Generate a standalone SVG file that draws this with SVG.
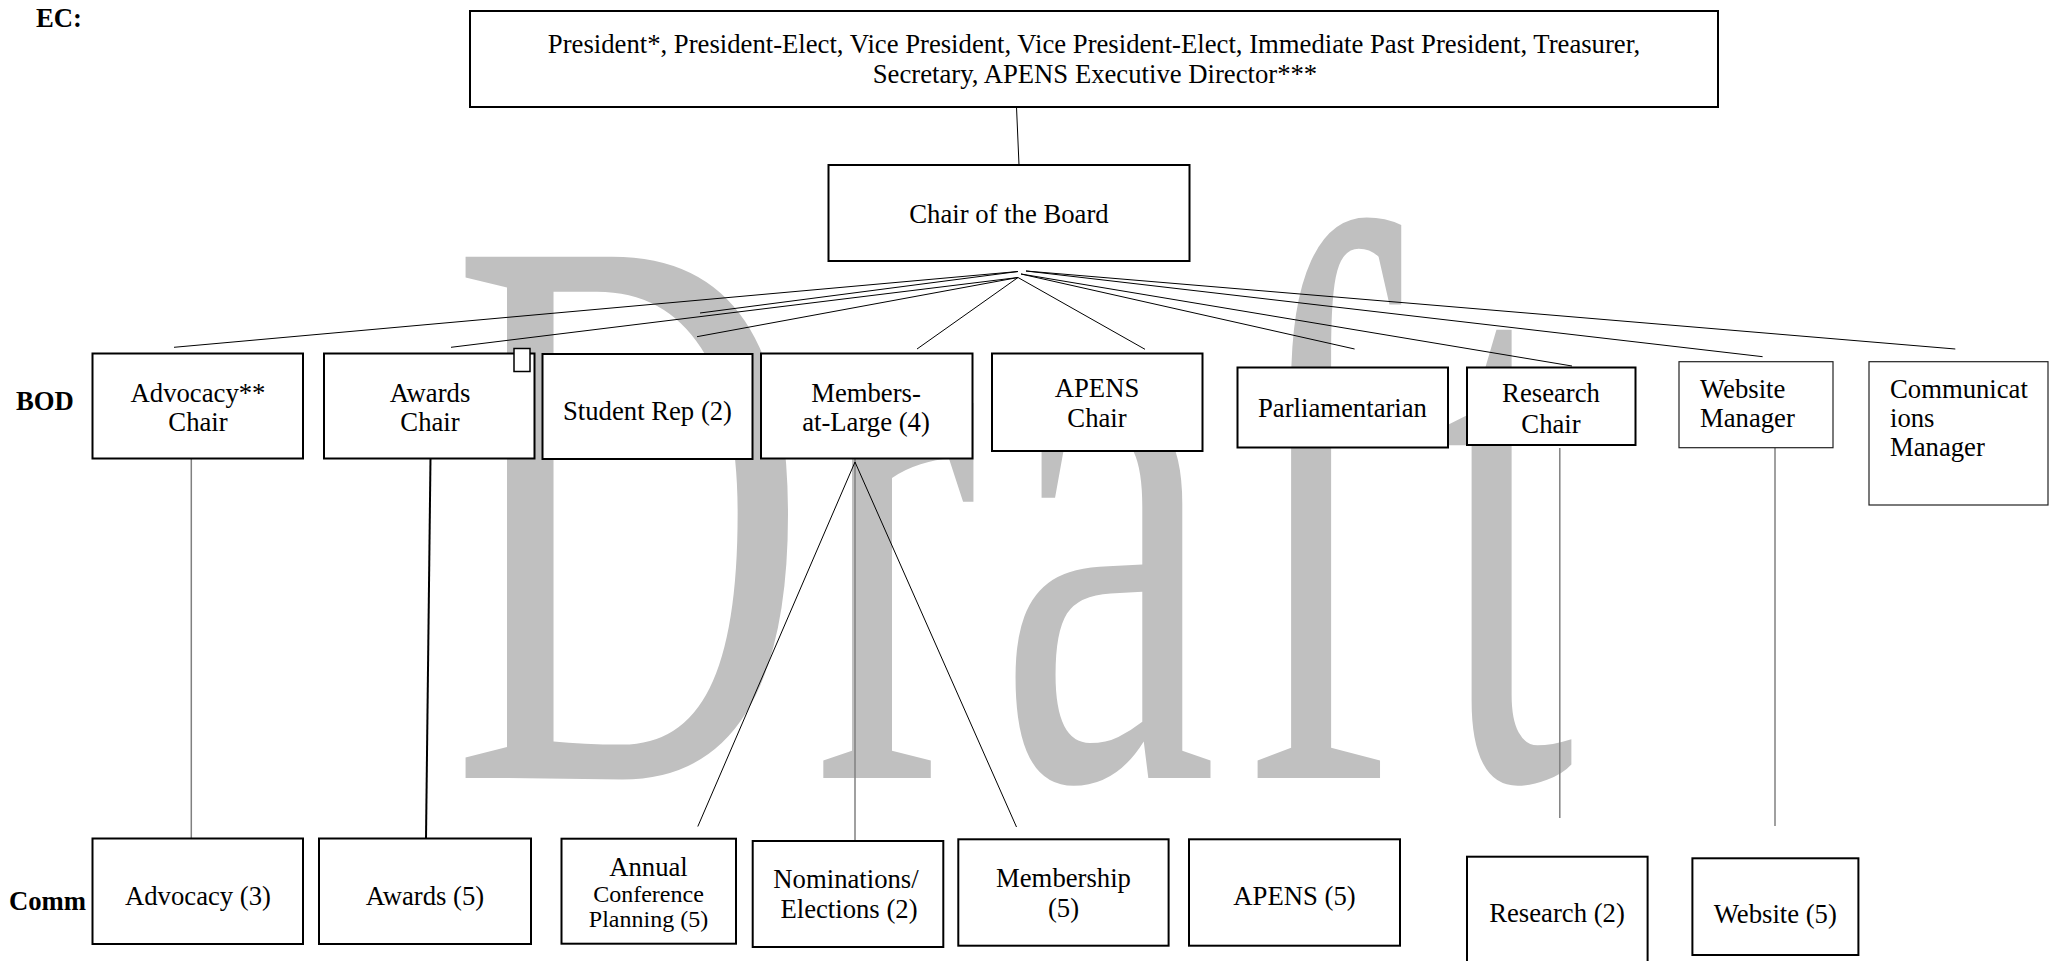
<svg xmlns="http://www.w3.org/2000/svg" width="2049" height="961" viewBox="0 0 2049 961">
<style>
.box{fill:#fff;stroke:#000;stroke-width:2}
.thin{fill:#fff;stroke:#222;stroke-width:1.2}
.t{font-family:"Liberation Serif","Times New Roman",serif;font-size:26.7px;fill:#000;text-anchor:middle}
.s{font-size:24px}
.l{text-anchor:start}
.lbl{font-family:"Liberation Serif","Times New Roman",serif;font-size:26.7px;font-weight:bold;fill:#000}
.ln{stroke:#000;stroke-width:1;fill:none}
.gl{stroke:#808080;stroke-width:1.5;fill:none}
.wm{font-family:"Liberation Serif","Times New Roman",serif;font-size:796px;fill:#c0c0c0}
</style>
<rect width="2049" height="961" fill="#fff"/>
<g id="watermark">
<text class="wm" transform="scale(0.62,1)" y="778" x="728 1312 1610 1995 2318">Draft</text>
</g>
<g id="labels">
<text class="lbl" x="36" y="27">EC:</text>
<text class="lbl" x="16" y="410">BOD</text>
<text class="lbl" x="9" y="910">Comm</text>
</g>
<g id="connectors">
<line class="ln" x1="1016.5" y1="107" x2="1019" y2="165"/>
<line class="ln" x1="1018" y1="271.5" x2="174" y2="347.3"/>
<line class="ln" x1="1018" y1="277.5" x2="451" y2="347.3"/>
<line class="ln" x1="1018" y1="271.5" x2="700" y2="313"/>
<line class="ln" x1="1018" y1="277.5" x2="697" y2="336.7"/>
<line class="ln" x1="1018" y1="277.5" x2="917" y2="349"/>
<line class="ln" x1="1018" y1="277.5" x2="1145" y2="349.3"/>
<line class="ln" x1="1021" y1="274" x2="1354.6" y2="349"/>
<line class="ln" x1="1021" y1="274" x2="1572" y2="366"/>
<line class="ln" x1="1026" y1="271" x2="1762.6" y2="356.7"/>
<line class="ln" x1="1026" y1="271" x2="1955.3" y2="349"/>
<line class="gl" x1="191.3" y1="458" x2="191.3" y2="838.5"/>
<line x1="430.5" y1="458" x2="426" y2="838.5" stroke="#000" stroke-width="2"/>
<line class="gl" x1="855" y1="458" x2="855" y2="841"/>
<line class="ln" x1="855" y1="462" x2="697.8" y2="826.5"/>
<line class="ln" x1="855" y1="462" x2="1016.5" y2="827"/>
<line class="gl" x1="1559.8" y1="448" x2="1559.8" y2="818"/>
<line class="gl" x1="1775" y1="448" x2="1775" y2="826"/>
</g>
<g id="ec">
<rect class="box" x="470" y="11" width="1248" height="96"/>
<text class="t" x="1094" y="53">President*, President-Elect, Vice President, Vice President-Elect, Immediate Past President, Treasurer,</text>
<text class="t" x="1095" y="83">Secretary, APENS Executive Director***</text>
</g>
<g id="chair">
<rect class="box" x="828.5" y="165" width="361" height="96"/>
<text class="t" x="1009" y="223">Chair of the Board</text>
</g>
<g id="bod-advocacy">
<rect class="box" x="92.5" y="353.5" width="210.5" height="105"/>
<text class="t" x="198" y="401.5">Advocacy**</text>
<text class="t" x="198" y="430.5">Chair</text>
</g>
<g id="bod-awards">
<rect class="box" x="324" y="353.5" width="210.5" height="105"/>
<text class="t" x="430" y="401.5">Awards</text>
<text class="t" x="430" y="430.5">Chair</text>
<rect x="514" y="348.5" width="16" height="23" fill="#fff" stroke="#000" stroke-width="1.5"/>
</g>
<g id="bod-student">
<rect class="box" x="542.5" y="354" width="210" height="105"/>
<text class="t" x="647.5" y="420">Student Rep (2)</text>
</g>
<g id="bod-members">
<rect class="box" x="761" y="353.5" width="211.5" height="105"/>
<text class="t" x="866" y="401.5">Members-</text>
<text class="t" x="866" y="430.5">at-Large (4)</text>
</g>
<g id="bod-apens">
<rect class="box" x="992" y="353.5" width="210.5" height="97.5"/>
<text class="t" x="1097" y="396.5">APENS</text>
<text class="t" x="1097" y="426.5">Chair</text>
</g>
<g id="bod-parliamentarian">
<rect class="box" x="1237.5" y="367.5" width="210.5" height="80"/>
<text class="t" x="1342.5" y="416.5">Parliamentarian</text>
</g>
<g id="bod-research">
<rect class="box" x="1467" y="367.5" width="168.5" height="77.5"/>
<text class="t" x="1551" y="402">Research</text>
<text class="t" x="1551" y="433">Chair</text>
</g>
<g id="bod-website">
<rect class="thin" x="1679" y="361.7" width="154" height="86"/>
<text class="t l" x="1700" y="398">Website</text>
<text class="t l" x="1700" y="427">Manager</text>
</g>
<g id="bod-communications">
<rect class="thin" x="1869" y="361.7" width="179" height="143.3"/>
<text class="t l" x="1890" y="398">Communicat</text>
<text class="t l" x="1890" y="427">ions</text>
<text class="t l" x="1890" y="456">Manager</text>
</g>
<g id="comm-advocacy">
<rect class="box" x="92.5" y="838.5" width="210.5" height="105.5"/>
<text class="t" x="198" y="904.5">Advocacy (3)</text>
</g>
<g id="comm-awards">
<rect class="box" x="319" y="838.5" width="212" height="105.5"/>
<text class="t" x="425" y="904.5">Awards (5)</text>
</g>
<g id="comm-annual">
<rect class="box" x="561.5" y="838.7" width="174.5" height="105"/>
<text class="t" x="648.5" y="876">Annual</text>
<text class="t s" x="648.5" y="902">Conference</text>
<text class="t s" x="648.5" y="927">Planning (5)</text>
</g>
<g id="comm-nominations">
<rect class="box" x="752.7" y="841" width="190.6" height="106"/>
<text class="t" x="846" y="887.7">Nominations/</text>
<text class="t" x="849" y="917.7">Elections (2)</text>
</g>
<g id="comm-membership">
<rect class="box" x="958.3" y="839.3" width="210.3" height="106.4"/>
<text class="t" x="1063.5" y="887">Membership</text>
<text class="t" x="1063.5" y="917">(5)</text>
</g>
<g id="comm-apens">
<rect class="box" x="1189" y="839.3" width="211" height="106.4"/>
<text class="t" x="1294.5" y="905">APENS (5)</text>
</g>
<g id="comm-research">
<rect class="box" x="1467" y="856.7" width="180.6" height="120"/>
<text class="t" x="1557" y="922">Research (2)</text>
</g>
<g id="comm-website">
<rect class="box" x="1692.4" y="858.3" width="166" height="96.7"/>
<text class="t" x="1775.3" y="923">Website (5)</text>
</g>
</svg>
